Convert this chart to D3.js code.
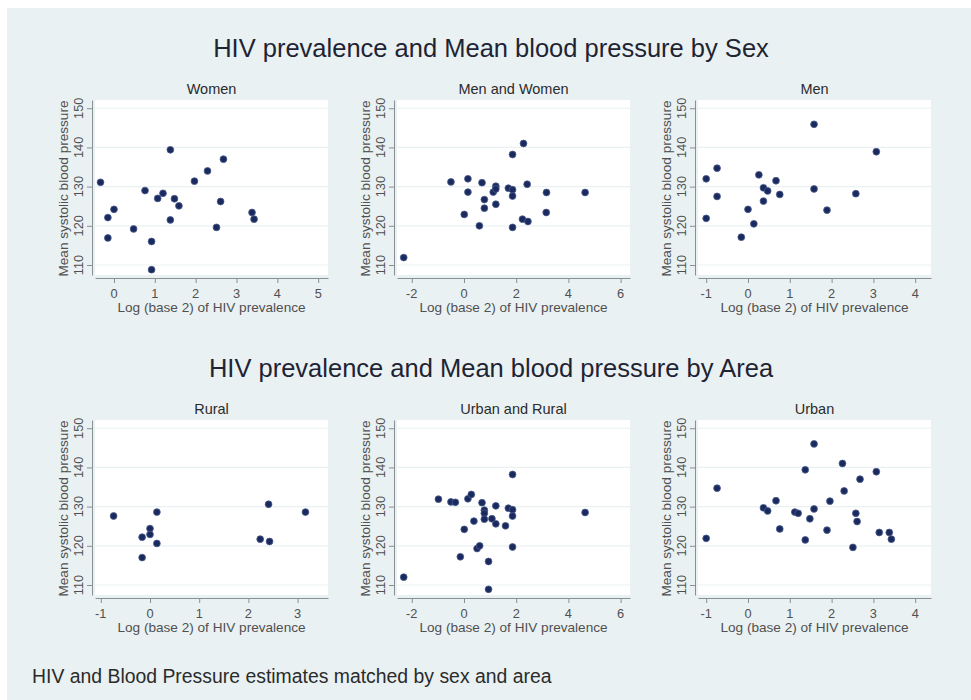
<!DOCTYPE html>
<html>
<head>
<meta charset="utf-8">
<script src="https://cdn.jsdelivr.net/npm/d3@7"></script>
<style>
  body { margin: 0; background: #fff; }
  svg { display: block; font-family: "Liberation Sans", Arial, sans-serif; }
  .gtitle { font-size: 25.5px; fill: #1f2433; }
  .ptitle { font-size: 14.5px; fill: #2b2b2b; }
  .axlab { font-size: 13.6px; fill: #505050; }
  .ticklab { font-size: 12.8px; fill: #505050; }
  .note { font-size: 19.4px; fill: #2b2b2b; }
</style>
</head>
<body>
<div id="chart"></div>
<script>
// x = log2 HIV prevalence, y = mean systolic blood pressure
const women = [
  [-0.33, 131.1], [-0.15, 122.1], [-0.15, 116.9], [0.0, 124.2], [0.48, 119.2],
  [0.76, 129.0], [0.92, 116.0], [0.92, 108.8], [1.07, 127.0], [1.20, 128.3],
  [1.38, 139.4], [1.38, 121.5], [1.48, 126.9], [1.59, 125.1], [1.97, 131.4],
  [2.29, 134.0], [2.51, 119.6], [2.61, 126.2], [2.68, 137.0], [3.38, 123.4],
  [3.43, 121.7]
];
const menAndWomen = [
  [-2.31, 111.9], [-0.50, 131.2], [0.15, 132.0], [0.15, 128.6], [0.01, 122.9],
  [0.69, 131.0], [0.59, 120.0], [0.78, 126.7], [0.78, 124.5], [1.12, 128.6],
  [1.22, 130.1], [1.22, 129.4], [1.22, 125.5], [1.70, 129.6], [1.86, 129.2],
  [1.86, 127.6], [1.86, 138.2], [1.86, 119.6], [2.28, 141.0], [2.42, 130.6],
  [2.24, 121.7], [2.45, 121.1], [3.16, 128.5], [3.15, 123.4], [4.64, 128.5]
];
const men = [
  [-1.0, 132.0], [-1.0, 121.9], [-0.74, 134.7], [-0.74, 127.5], [-0.16, 117.1],
  [0.0, 124.2], [0.14, 120.5], [0.26, 133.0], [0.37, 129.7], [0.37, 126.3],
  [0.47, 128.9], [0.67, 131.5], [0.76, 128.0], [1.58, 145.9], [1.58, 129.4],
  [1.89, 124.0], [2.58, 128.2], [3.07, 138.9]
];
const rural = [
  [-0.74, 127.6], [-0.16, 122.2], [-0.16, 117.0], [0.0, 124.4], [0.0, 122.9],
  [0.14, 128.6], [0.14, 120.6], [2.24, 121.7], [2.41, 130.6], [2.43, 121.1],
  [3.16, 128.6]
];
const urbanAndRural = [
  [-2.31, 112.0], [-0.98, 131.9], [-0.50, 131.2], [-0.33, 131.1], [-0.14, 117.2],
  [0.01, 124.2], [0.15, 132.0], [0.28, 133.1], [0.38, 126.3], [0.50, 119.3],
  [0.60, 120.0], [0.69, 131.0], [0.78, 129.1], [0.78, 128.3], [0.78, 126.8],
  [0.94, 116.0], [0.94, 108.9], [1.07, 126.9], [1.22, 130.2], [1.22, 125.6],
  [1.59, 125.1], [1.70, 129.6], [1.86, 138.2], [1.86, 129.2], [1.86, 127.6],
  [1.86, 119.7], [4.64, 128.5]
];
const urban = [
  [-1.0, 121.9], [-0.74, 134.7], [0.37, 129.7], [0.47, 128.9], [0.67, 131.5],
  [0.76, 124.3], [1.12, 128.6], [1.20, 128.3], [1.37, 139.4], [1.37, 121.5],
  [1.48, 126.9], [1.58, 146.0], [1.58, 129.4], [1.89, 124.0], [1.96, 131.4],
  [2.26, 141.0], [2.30, 134.0], [2.51, 119.6], [2.58, 128.3], [2.61, 126.2],
  [2.68, 137.0], [3.07, 138.9], [3.14, 123.4], [3.38, 123.4], [3.43, 121.7]
];

const panelTitles = ['Women', 'Men and Women', 'Men', 'Rural', 'Urban and Rural', 'Urban'];
const groupTitles = ['HIV prevalence and Mean blood pressure by Sex', 'HIV prevalence and Mean blood pressure by Area'];
const yTicks = [110, 120, 130, 140, 150];
const xTicksWide = [-2, 0, 2, 4, 6];
const xTicksWomen = [0, 1, 2, 3, 4, 5];
const xTicksMen = [-1, 0, 1, 2, 3, 4];
const xTicksRural = [-1, 0, 1, 2, 3];
const xLabel = 'Log (base 2) of HIV prevalence';
const yLabel = 'Mean systolic blood pressure';
const note = 'HIV and Blood Pressure estimates matched by sex and area';

const W = 971, H = 700;
const colLeft = [95, 397, 698], plotW = 233;
const rowTop = [100, 420], plotH = 175;

const panels = [
  { data: women, title: panelTitles[0], xd: [-0.465, 5.24], ticks: xTicksWomen },
  { data: menAndWomen, title: panelTitles[1], xd: [-2.567, 6.36], ticks: xTicksWide },
  { data: men, title: panelTitles[2], xd: [-1.196, 4.378], ticks: xTicksMen },
  { data: rural, title: panelTitles[3], xd: [-1.118, 3.618], ticks: xTicksRural },
  { data: urbanAndRural, title: panelTitles[4], xd: [-2.567, 6.36], ticks: xTicksWide },
  { data: urban, title: panelTitles[5], xd: [-1.196, 4.378], ticks: xTicksMen }
];

const svg = d3.select('#chart').append('svg')
  .attr('width', W).attr('height', H);

// light background of the graph region
svg.append('rect')
  .attr('x', 7).attr('y', 8)
  .attr('width', W - 7).attr('height', H - 8)
  .attr('fill', '#eaf1f3');

groupTitles.forEach((t, i) => {
  svg.append('text')
    .attr('class', 'gtitle')
    .attr('x', 491).attr('y', i === 0 ? 57 : 377)
    .attr('text-anchor', 'middle')
    .text(t);
});

svg.append('text')
  .attr('class', 'note')
  .attr('x', 32).attr('y', 683)
  .text(note);

panels.forEach((p, i) => {
  let left = colLeft[i % 3],
      top = rowTop[Math.floor(i / 3)],
      bottom = top + plotH,
      right = left + plotW;

  let x = d3.scaleLinear().domain(p.xd).range([left, right]),
      y = d3.scaleLinear().domain([107.45, 152.1]).range([bottom, top]);

  let g = svg.append('g');

  g.append('rect')
    .attr('x', left).attr('y', top)
    .attr('width', plotW).attr('height', plotH)
    .attr('fill', '#fff');

  // grid lines
  g.selectAll('.grid')
    .data(yTicks)
    .enter()
    .append('line')
    .attr('x1', left).attr('x2', right)
    .attr('y1', d => y(d)).attr('y2', d => y(d))
    .attr('stroke', '#eaf1f3')
    .attr('stroke-width', 1.2);

  // y axis
  let yAxis = g.append('g')
    .attr('transform', `translate(${left - 3},0)`)
    .call(d3.axisLeft(y).tickValues(yTicks).tickSize(5).tickSizeOuter(0).tickFormat(''));
  yAxis.selectAll('path, line').attr('stroke', '#8a8f94');

  g.selectAll('.ylab')
    .data(yTicks)
    .enter()
    .append('text')
    .attr('class', 'ticklab')
    .attr('text-anchor', 'middle')
    .attr('transform', d => `translate(${left - 12},${y(d)}) rotate(-90)`)
    .text(d => d);

  // x axis
  let xAxis = g.append('g')
    .attr('transform', `translate(0,${bottom + 3})`)
    .call(d3.axisBottom(x).tickValues(p.ticks).tickSize(5).tickSizeOuter(0).tickFormat(''));
  xAxis.selectAll('path, line').attr('stroke', '#8a8f94');

  g.selectAll('.xlab')
    .data(p.ticks)
    .enter()
    .append('text')
    .attr('class', 'ticklab')
    .attr('text-anchor', 'middle')
    .attr('x', d => x(d))
    .attr('y', bottom + 22.5)
    .text(d => d);

  g.append('text')
    .attr('class', 'axlab')
    .attr('text-anchor', 'middle')
    .attr('x', (left + right) / 2)
    .attr('y', bottom + 36.5)
    .text(xLabel);

  g.append('text')
    .attr('class', 'axlab')
    .attr('text-anchor', 'middle')
    .attr('transform', `translate(${left - 27},${(top + bottom) / 2 + 1}) rotate(-90)`)
    .text(yLabel);

  g.append('text')
    .attr('class', 'ptitle')
    .attr('text-anchor', 'middle')
    .attr('x', (left + right) / 2)
    .attr('y', top - 6)
    .text(p.title);

  // markers
  g.selectAll('circle')
    .data(p.data)
    .enter()
    .append('circle')
    .attr('cx', d => x(d[0]))
    .attr('cy', d => y(d[1]))
    .attr('r', 3.4)
    .attr('fill', '#1b2a5e')
    .attr('stroke', '#4a5d8c')
    .attr('stroke-width', 0.8);
});
</script>
</body>
</html>
